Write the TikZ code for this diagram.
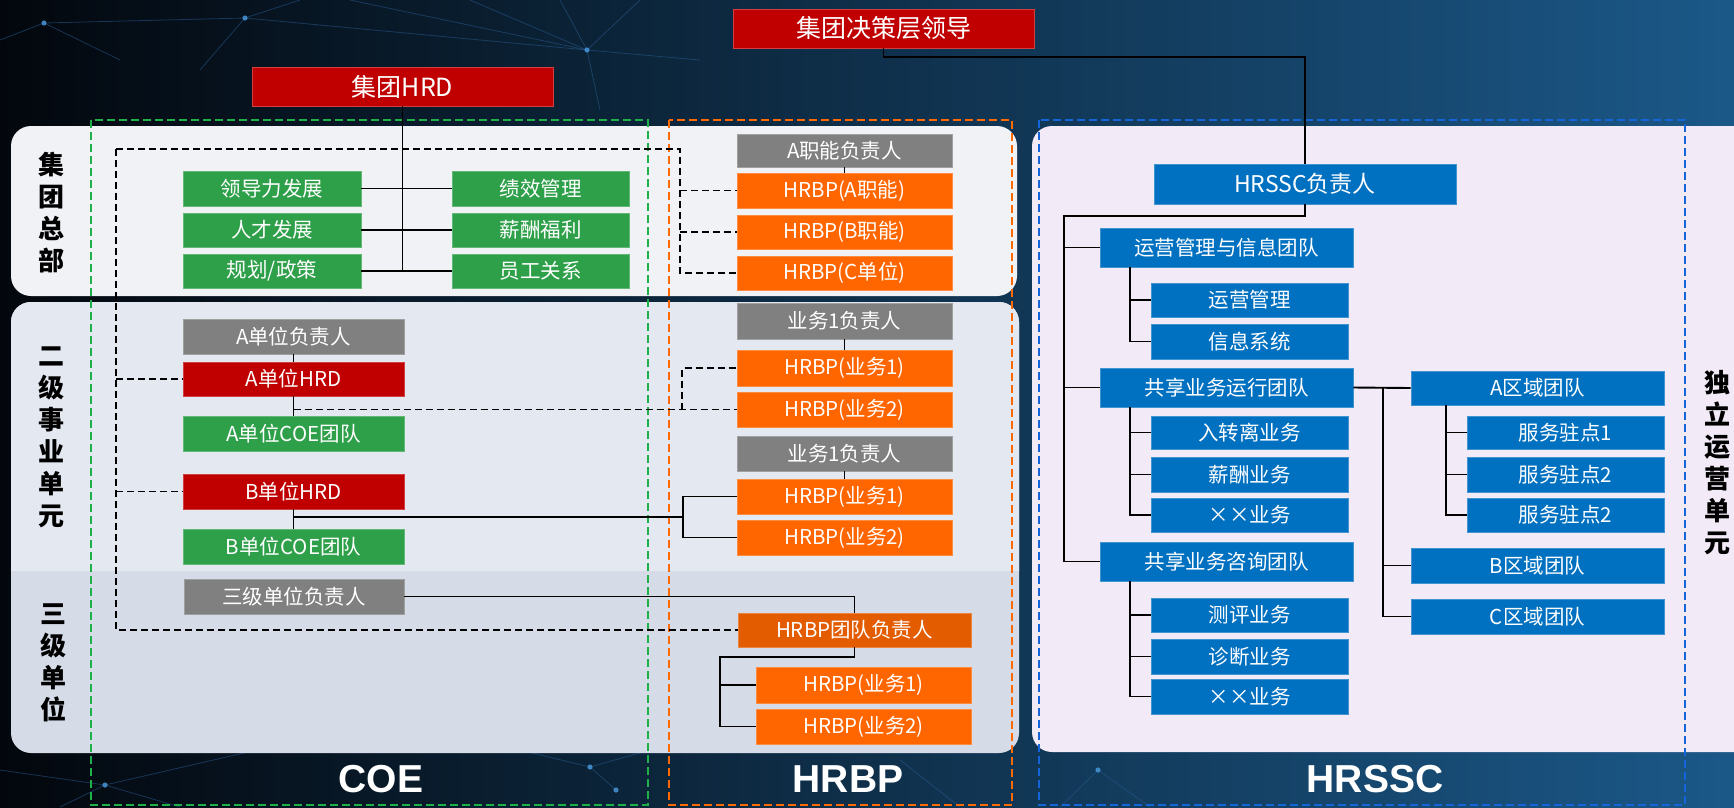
\documentclass[tikz,border=0pt]{standalone}
\usepackage{fontspec}
\setmainfont{Noto Sans CJK SC}
\newfontfamily\labfont{Liberation Sans}
\usetikzlibrary{calc}

\definecolor{cRed}{HTML}{C00000}
\definecolor{cGreen}{HTML}{2FA04A}
\definecolor{cGray}{HTML}{808080}
\definecolor{cOrange}{HTML}{FF6600}
\definecolor{cOrangeD}{HTML}{E35C00}
\definecolor{cBlue}{HTML}{0070C0}
\definecolor{panA}{HTML}{F0F2F6}
\definecolor{panB}{HTML}{E4E8F0}
\definecolor{panC}{HTML}{D6DCE7}
\definecolor{panD}{HTML}{F2EAF7}
\definecolor{frGreen}{HTML}{1FB04A}
\definecolor{frOrange}{HTML}{FF6A00}
\definecolor{frBlue}{HTML}{1565D8}
\definecolor{bgL}{HTML}{03070D}
\definecolor{bgM}{HTML}{06101C}
\definecolor{bgR}{HTML}{1B5888}
\definecolor{net}{HTML}{2A5E94}
\definecolor{netdot}{HTML}{4A9BE0}

\tikzset{
  bx/.style={rectangle, inner sep=0pt, text=white, fill=#1, draw=#1!75!white,
    line width=0.8pt, font=\fontsize{20.5}{21}\selectfont},
  conn/.style={draw=black, line width=1.9pt},
  dsh/.style={draw=black, line width=1.8pt, dash pattern=on 7pt off 4pt},
  frame/.style={draw=#1, line width=2.2pt, dash pattern=on 8pt off 4pt},
  rowlab/.style={align=center, text=black, font=\bfseries\fontsize{26}{32}\selectfont},
  collab/.style={text=white, font=\labfont\bfseries\fontsize{39}{39}\selectfont},
  netline/.style={draw=net, line width=0.8pt, opacity=0.5},
}

% box: name, x1, y1, x2, y2, colour, text
\newcommand\obox[7]{\node[bx=#6, minimum width={#4-#2}, minimum height={#5-#3}]
  (#1) at ({(#2+#4)/2},{(#3+#5)/2}) {#7};}

\begin{document}
\begin{tikzpicture}[x=1pt,y=-1pt]
\useasboundingbox (0,0) rectangle (1734,807);
\clip (0,0) rectangle (1734,807);

% dark background with a faint network
\shade[left color=bgL, middle color=bgM, right color=bgR] (0,0) rectangle (1734,807);
\draw[netline] (0,40) -- (44,23) -- (245,18) -- (587,50) -- (700,60);
\draw[netline] (245,18) -- (200,70) ; \draw[netline] (44,23) -- (120,60);
\draw[netline] (587,50) -- (470,0); \draw[netline] (587,50) -- (560,0);
\draw[netline] (587,50) -- (640,0); \draw[netline] (587,50) -- (600,110);
\draw[netline] (245,18) -- (300,0); \draw[netline] (350,0) -- (587,50);
\draw[netline] (0,770) -- (105,785) -- (300,740); \draw[netline] (105,785) -- (60,807);
\draw[netline] (105,785) -- (180,807); \draw[netline] (590,767) -- (520,750);
\draw[netline] (590,767) -- (650,750); \draw[netline] (616,790) -- (590,767);
\draw[netline] (1098,770) -- (1060,807); \draw[netline] (1098,770) -- (1150,807);
\draw[netline] (900,760) -- (960,807);
\foreach \p in {(44,23),(245,18),(587,50),(105,785),(590,767),(616,790),(1098,770)}
  \fill[netdot, opacity=0.8] \p circle (2.6);

% row panels
\fill[panA, rounded corners=20pt] (11,126) rectangle (1017,296);
\fill[panC, rounded corners=20pt] (11,302) rectangle (1019,753);
\begin{scope}
  \clip (0,0) rectangle (1734,570);
  \fill[panB, rounded corners=20pt] (11,302) rectangle (1019,640);
\end{scope}
\fill[panD, rounded corners=20pt] (1032,126) rectangle (1760,752);

% column frames
\draw[frame=frGreen] (91,120) rectangle (648,805);
\draw[frame=frOrange] (669,120) rectangle (1012,805);
\draw[frame=frBlue] (1039,120) rectangle (1685,805);

% row and column captions
\node[rowlab] (rl1) at (51,213) {集\\团\\总\\部};
\node[rowlab] (rl2) at (51,437) {二\\级\\事\\业\\单\\元};
\node[rowlab] (rl3) at (53,663) {三\\级\\单\\位};
\node[rowlab] (rl4) at (1717,463) {独\\立\\运\\营\\单\\元};
\node[collab] (cl1) at (381,779) {COE};
\node[collab] (cl2) at (848,779) {HRBP};
\node[collab] (cl3) at (1375,779) {HRSSC};

% top boxes
\node[bx=cRed, minimum width=301, minimum height=39, font=\fontsize{25}{25}\selectfont]
  (lead) at (883.5,28.5) {集团决策层领导};
\node[bx=cRed, minimum width=301, minimum height=39, font=\fontsize{25}{25}\selectfont]
  (hrd) at (402.5,86.5) {集团HRD};

% group headquarters COE
\obox{g1}{183}{171}{361}{206}{cGreen}{领导力发展}
\obox{g2}{183}{213}{361}{247}{cGreen}{人才发展}
\obox{g3}{183}{254}{361}{288}{cGreen}{规划/政策}
\obox{g4}{452}{171}{629}{206}{cGreen}{绩效管理}
\obox{g5}{452}{213}{629}{247}{cGreen}{薪酬福利}
\obox{g6}{452}{254}{629}{288}{cGreen}{员工关系}

% group headquarters HRBP
\obox{p0}{737}{134}{952}{167}{cGray}{A职能负责人}
\obox{p1}{737}{173}{952}{208}{cOrange}{HRBP(A职能)}
\obox{p2}{737}{215}{952}{249}{cOrange}{HRBP(B职能)}
\obox{p3}{737}{256}{952}{290}{cOrange}{HRBP(C单位)}

% business units
\obox{u1}{183}{319}{404}{354}{cGray}{A单位负责人}
\obox{u2}{183}{362}{404}{396}{cRed}{A单位HRD}
\obox{u3}{183}{416}{404}{451}{cGreen}{A单位COE团队}
\obox{u4}{183}{474}{404}{509}{cRed}{B单位HRD}
\obox{u5}{183}{529}{404}{564}{cGreen}{B单位COE团队}
\obox{u6}{184}{579}{404}{614}{cGray}{三级单位负责人}

\obox{q1}{737}{303}{952}{339}{cGray}{业务1负责人}
\obox{q2}{737}{350}{952}{386}{cOrange}{HRBP(业务1)}
\obox{q3}{737}{392}{952}{427}{cOrange}{HRBP(业务2)}
\obox{q4}{737}{436}{952}{471}{cGray}{业务1负责人}
\obox{q5}{737}{479}{952}{514}{cOrange}{HRBP(业务1)}
\obox{q6}{737}{520}{952}{555}{cOrange}{HRBP(业务2)}
\obox{q7}{738}{613}{971}{647}{cOrangeD}{HRBP团队负责人}
\obox{q8}{756}{667}{971}{703}{cOrange}{HRBP(业务1)}
\obox{q9}{756}{709}{971}{744}{cOrange}{HRBP(业务2)}

% shared service centre
\node[bx=cBlue, minimum width=302, minimum height=40, font=\fontsize{23}{23}\selectfont]
  (s0) at (1305,184) {HRSSC负责人};
\obox{s1}{1100}{228}{1353}{267}{cBlue}{运营管理与信息团队}
\obox{s2}{1151}{283}{1348}{317}{cBlue}{运营管理}
\obox{s3}{1151}{324}{1348}{359}{cBlue}{信息系统}
\obox{s4}{1100}{368}{1353}{407}{cBlue}{共享业务运行团队}
\obox{s5}{1151}{416}{1348}{449}{cBlue}{入转离业务}
\obox{s6}{1151}{457}{1348}{492}{cBlue}{薪酬业务}
\obox{s7}{1151}{498}{1348}{532}{cBlue}{××业务}
\obox{s8}{1100}{542}{1353}{581}{cBlue}{共享业务咨询团队}
\obox{s9}{1151}{598}{1348}{632}{cBlue}{测评业务}
\obox{s10}{1151}{639}{1348}{674}{cBlue}{诊断业务}
\obox{s11}{1151}{679}{1348}{714}{cBlue}{××业务}
\obox{r1}{1411}{371}{1664}{405}{cBlue}{A区域团队}
\obox{r2}{1467}{416}{1664}{449}{cBlue}{服务驻点1}
\obox{r3}{1467}{457}{1664}{492}{cBlue}{服务驻点2}
\obox{r4}{1467}{498}{1664}{532}{cBlue}{服务驻点2}
\obox{r5}{1411}{548}{1664}{583}{cBlue}{B区域团队}
\obox{r6}{1411}{599}{1664}{634}{cBlue}{C区域团队}

% solid reporting lines
\draw[conn] (lead.south) -- ++(0,9) -| (s0.north);
\draw[conn] (hrd.south) -- (hrd.south |- g3.east);
\draw[conn] (g1.east) -- (g4.west);
\draw[conn] (g2.east) -- (g5.west);
\draw[conn] (g3.east) -- (g6.west);
\draw[conn] (p0.south) -- (p1.north);
\draw[conn] (u1.south) -- (u2.north);
\draw[conn] (u2.south) -- (u3.north);
\draw[conn] (u4.south) -- (u5.north);
\draw[conn] (q1.south) -- (q2.north);
\draw[conn] (q4.south) -- (q5.north);

\coordinate (kB) at (683,0);
\coordinate (mB) at ($(q5.west)!0.5!(q6.west)$);
\draw[conn] (u4.south |- mB) -- (kB |- mB);
\draw[conn] (q5.west) -- (kB |- q5.west) -- (kB |- q6.west) -- (q6.west);

\draw[conn] (u6.east) -| (q7.north);
\coordinate (kC) at (720,0);
\draw[conn] (q7.south) -- ++(0,10) -| (kC |- q9.west) -- (q9.west);
\draw[conn] (kC |- q8.west) -- (q8.west);

\coordinate (t0) at (1064,216);
\draw[conn] (s0.south) |- (t0) -- (t0 |- s8.west) -- (s8.west);
\draw[conn] (t0 |- s1.west) -- (s1.west);
\draw[conn] (t0 |- s4.west) -- (s4.west);
\coordinate (t1) at (1130,0);
\draw[conn] (t1 |- s1.south) |- (s3.west);
\draw[conn] (t1 |- s2.west) -- (s2.west);
\draw[conn] (t1 |- s4.south) |- (s7.west);
\draw[conn] (t1 |- s5.west) -- (s5.west);
\draw[conn] (t1 |- s6.west) -- (s6.west);
\draw[conn] (t1 |- s8.south) |- (s11.west);
\draw[conn] (t1 |- s9.west) -- (s9.west);
\draw[conn] (t1 |- s10.west) -- (s10.west);
\draw[conn] (s4.east) -- (r1.west);
\coordinate (t2) at (1383,0);
\draw[conn] (t2 |- s4.east) |- (r6.west);
\draw[conn] (t2 |- r5.west) -- (r5.west);
\coordinate (t3) at (1446,0);
\draw[conn] (t3 |- r1.south) |- (r4.west);
\draw[conn] (t3 |- r2.west) -- (r2.west);
\draw[conn] (t3 |- r3.west) -- (r3.west);

% dashed dotted-line reporting
\coordinate (dA) at (116,149);
\coordinate (dB) at (680,149);
\draw[dsh] (dA) -- (dB) |- (p3.west);
\draw[dsh] (dB |- p1.west) -- (p1.west);
\draw[dsh] (dB |- p2.west) -- (p2.west);
\draw[dsh] (dA) |- (q7.west);
\draw[dsh] (dA |- u2.west) -- (u2.west);
\draw[dsh] (dA |- u4.west) -- (u4.west);
\draw[dsh] (u2.south |- q3.west) -- (q3.west);
\coordinate (kA) at (682,0);
\draw[dsh] (kA |- q3.west) |- (q2.west);
\end{tikzpicture}
\end{document}
